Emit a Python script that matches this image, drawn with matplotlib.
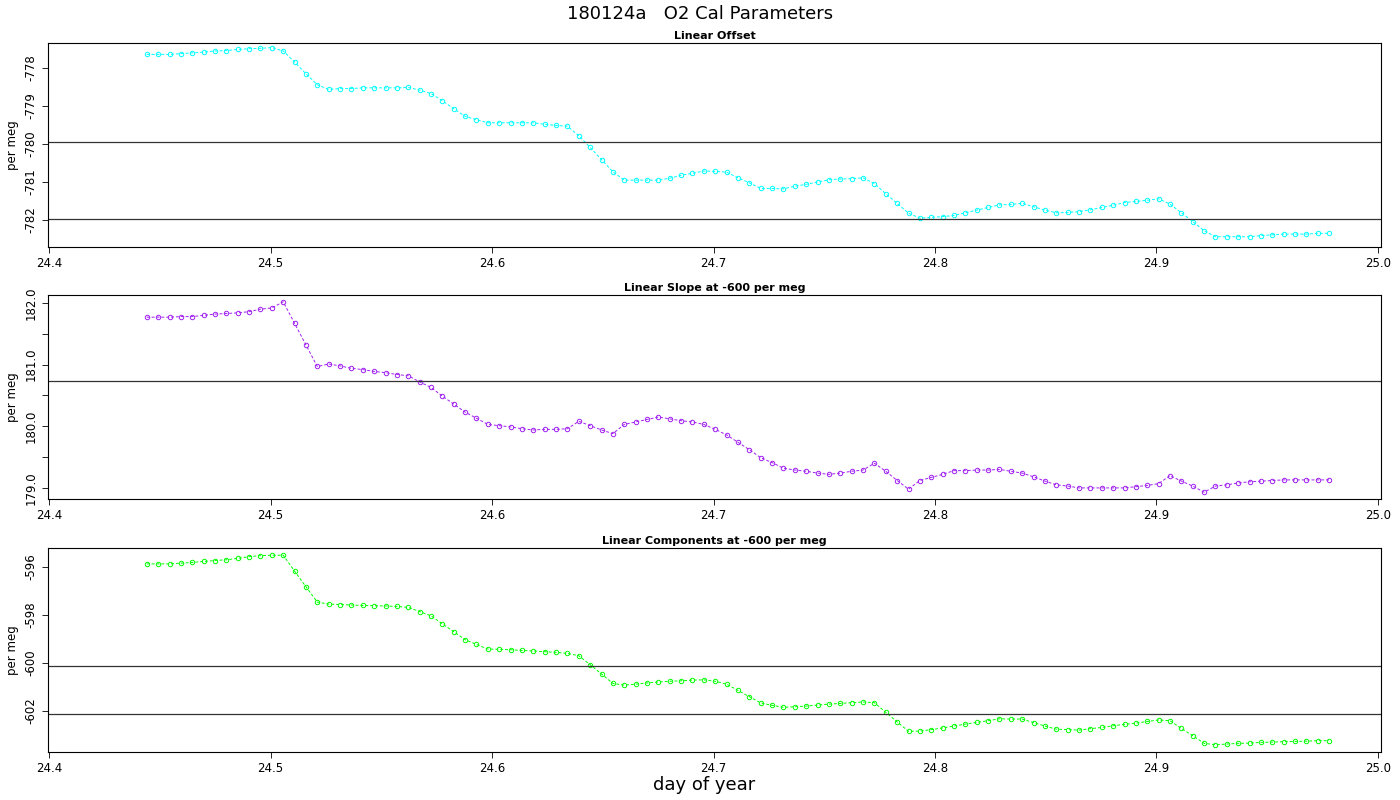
import numpy as np
import matplotlib
matplotlib.use('Agg')
import matplotlib.pyplot as plt

# sample times: regular spacing from first to last sample
t_first = 24.4441
t_last = 24.9780

offset = [-777.64, -777.64, -777.64, -777.62, -777.60, -777.58, -777.55, -777.54, -777.51, -777.49,
          -777.48, -777.46, -777.55, -777.84, -778.15, -778.44, -778.56, -778.54, -778.54, -778.52,
          -778.52, -778.52, -778.52, -778.51, -778.58, -778.67, -778.86, -779.07, -779.27, -779.36,
          -779.44, -779.44, -779.44, -779.44, -779.44, -779.48, -779.51, -779.53, -779.78, -780.09,
          -780.41, -780.73, -780.95, -780.95, -780.95, -780.95, -780.90, -780.82, -780.77, -780.71,
          -780.72, -780.74, -780.89, -781.02, -781.17, -781.17, -781.18, -781.11, -781.06, -781.00,
          -780.94, -780.92, -780.91, -780.89, -781.04, -781.31, -781.56, -781.82, -781.95, -781.93,
          -781.91, -781.88, -781.81, -781.74, -781.67, -781.60, -781.59, -781.56, -781.65, -781.74,
          -781.81, -781.80, -781.78, -781.73, -781.67, -781.61, -781.54, -781.51, -781.48, -781.44,
          -781.58, -781.81, -782.04, -782.28, -782.44, -782.44, -782.44, -782.44, -782.41, -782.39,
          -782.37, -782.37, -782.37, -782.35, -782.35]

slope = [181.77, 181.77, 181.77, 181.78, 181.78, 181.80, 181.82, 181.83, 181.84, 181.86,
         181.90, 181.92, 182.02, 181.67, 181.32, 180.97, 181.01, 180.98, 180.94, 180.92,
         180.89, 180.87, 180.84, 180.82, 180.72, 180.63, 180.49, 180.36, 180.23, 180.13,
         180.03, 180.01, 179.99, 179.96, 179.94, 179.95, 179.95, 179.96, 180.08, 180.01,
         179.94, 179.88, 180.03, 180.07, 180.11, 180.15, 180.12, 180.09, 180.07, 180.03,
         179.95, 179.86, 179.74, 179.62, 179.49, 179.41, 179.32, 179.29, 179.27, 179.24,
         179.22, 179.24, 179.27, 179.29, 179.40, 179.27, 179.12, 178.98, 179.12, 179.17,
         179.22, 179.28, 179.28, 179.29, 179.29, 179.30, 179.27, 179.24, 179.18, 179.11,
         179.05, 179.03, 179.00, 179.00, 179.00, 179.00, 179.00, 179.02, 179.04, 179.07,
         179.20, 179.11, 179.03, 178.93, 179.03, 179.05, 179.08, 179.10, 179.11, 179.12,
         179.13, 179.13, 179.13, 179.13, 179.13]

components = [-595.88, -595.88, -595.88, -595.85, -595.82, -595.78, -595.74, -595.71, -595.65, -595.58,
              -595.54, -595.52, -595.52, -596.18, -596.83, -597.47, -597.55, -597.57, -597.59, -597.61,
              -597.62, -597.63, -597.65, -597.69, -597.86, -598.04, -598.37, -598.70, -599.03, -599.23,
              -599.42, -599.43, -599.45, -599.48, -599.50, -599.53, -599.56, -599.60, -599.70, -600.07,
              -600.46, -600.85, -600.92, -600.88, -600.83, -600.79, -600.76, -600.74, -600.71, -600.70,
              -600.76, -600.88, -601.14, -601.40, -601.66, -601.76, -601.84, -601.82, -601.79, -601.75,
              -601.71, -601.68, -601.65, -601.62, -601.65, -602.05, -602.45, -602.84, -602.83, -602.77,
              -602.70, -602.62, -602.54, -602.47, -602.40, -602.32, -602.33, -602.33, -602.48, -602.62,
              -602.75, -602.77, -602.79, -602.73, -602.68, -602.61, -602.55, -602.50, -602.43, -602.37,
              -602.40, -602.72, -603.02, -603.34, -603.40, -603.37, -603.34, -603.33, -603.30, -603.29,
              -603.27, -603.26, -603.25, -603.23, -603.23]

days = np.linspace(t_first, t_last, len(offset))

panels = [
    ('Linear Offset', offset, '#00FFFF', (-782.71, -777.34), [-778, -779, -780, -781, -782], ['-778', '-779', '-780', '-781', '-782'], [-779.95, -781.96]),
    ('Linear Slope at -600 per meg', slope, '#A020F0', (178.82, 182.13), [179.0, 179.5, 180.0, 180.5, 181.0, 181.5, 182.0], ['179.0', '', '180.0', '', '181.0', '', '182.0'], [180.74]),
    ('Linear Components at -600 per meg', components, '#00FF00', (-603.70, -595.22), [-596, -598, -600, -602], ['-596', '-598', '-600', '-602'], [-600.13, -602.14]),
]

fig = plt.figure(figsize=(14, 8), dpi=100)
tops = [43, 295, 548]
for (title, vals, col, ylim, yt, ytl, hl), top in zip(panels, tops):
    ax = fig.add_axes([48 / 1400, 1 - (top + 204) / 800, 1333 / 1400, 204 / 800])
    ax.plot(days, vals, color=col, linestyle=(0, (3, 2)), linewidth=0.7,
            marker='o', markersize=3.2, markerfacecolor='none', markeredgewidth=0.7)
    for h in hl:
        ax.axhline(h, color='#333333', linewidth=0.9)
    ax.set_xlim(24.3995, 25.0014)
    ax.set_ylim(*ylim)
    ax.set_xticks([24.4, 24.5, 24.6, 24.7, 24.8, 24.9, 25.0])
    ax.set_xticklabels(['24.4', '24.5', '24.6', '24.7', '24.8', '24.9', '25.0'], fontsize=8.5)
    ax.set_yticks(yt)
    ax.set_yticklabels(ytl, fontsize=8.5, rotation=90, va='center')
    ax.tick_params(direction='out', length=4, width=0.6)
    ax.set_ylabel('per meg', fontsize=8.5, labelpad=4)
    ax.set_title(title, fontsize=8, fontweight='bold', pad=3)
    for s in ax.spines.values():
        s.set_linewidth(0.8)

fig.text(0.5, 1 - 14 / 800, '180124a   O2 Cal Parameters', ha='center', va='center', fontsize=13)
fig.text(704 / 1400, 1 - 785 / 800, 'day of year', ha='center', va='center', fontsize=13)

fig.savefig('out.png', dpi=100)
